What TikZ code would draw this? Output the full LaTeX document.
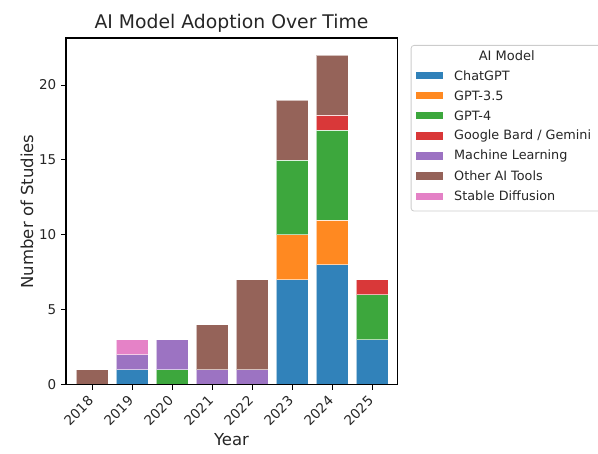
\documentclass[tikz,border=0pt]{standalone}
\usepackage{fontspec}
\setmainfont{DejaVu Sans}
\definecolor{cChat}{HTML}{1F77B4}
\definecolor{cG35}{HTML}{FF7F0E}
\definecolor{cG4}{HTML}{2CA02C}
\definecolor{cBard}{HTML}{D62728}
\definecolor{cML}{HTML}{9467BD}
\definecolor{cOther}{HTML}{8C564B}
\definecolor{cSD}{HTML}{E377C2}
\begin{document}
\begin{tikzpicture}[x=1pt,y=1pt,
  seg/.style={fill=#1, fill opacity=0.92, draw=white, draw opacity=0.6, line width=0.5pt},
  ticklab/.style={font=\fontsize{13.5}{16}\selectfont, text=black!85, inner sep=0pt},
  leglab/.style={font=\fontsize{12.8}{15}\selectfont, text=black!85, anchor=west, inner sep=0pt},
  legpatch/.style={fill=#1, fill opacity=0.92, draw=none},
  spine/.style={line width=1.8pt, black}]
\useasboundingbox (0,0) rectangle (598,454);
\clip (0,0) rectangle (598,454);
% bars: segment from value a to b at bar index i
\newcommand{\barseg}[4]{% index, from, to, colour
  \pgfmathsetmacro{\xc}{92+40*#1}
  \pgfmathsetmacro{\ya}{69.5+14.975*#2}
  \pgfmathsetmacro{\yb}{69.5+14.975*#3}
  \path[seg=#4] (\xc-16,\ya) rectangle (\xc+16,\yb);
}
% 2018
\barseg{0}{0}{1}{cOther}
% 2019
\barseg{1}{0}{1}{cChat}
\barseg{1}{1}{2}{cML}
\barseg{1}{2}{3}{cSD}
% 2020
\barseg{2}{0}{1}{cG4}
\barseg{2}{1}{3}{cML}
% 2021
\barseg{3}{0}{1}{cML}
\barseg{3}{1}{4}{cOther}
% 2022
\barseg{4}{0}{1}{cML}
\barseg{4}{1}{7}{cOther}
% 2023
\barseg{5}{0}{7}{cChat}
\barseg{5}{7}{10}{cG35}
\barseg{5}{10}{15}{cG4}
\barseg{5}{15}{19}{cOther}
% 2024
\barseg{6}{0}{8}{cChat}
\barseg{6}{8}{11}{cG35}
\barseg{6}{11}{17}{cG4}
\barseg{6}{17}{18}{cBard}
\barseg{6}{18}{22}{cOther}
% 2025
\barseg{7}{0}{3}{cChat}
\barseg{7}{3}{6}{cG4}
\barseg{7}{6}{7}{cBard}
% axes frame
\node[draw=none, inner sep=0pt, minimum width=331pt, minimum height=346pt, anchor=south west] (ax) at (66,69.5) {};
\draw[spine] (ax.south west) rectangle (ax.north east);
% y ticks
\foreach \v in {0,5,10,15,20}{
  \pgfmathsetmacro{\yy}{69.5+14.975*\v}
  \coordinate (yt\v) at (66,\yy);
  \draw[line width=0.9pt] (yt\v) -- ++(-5.5,0);
  \node[ticklab, anchor=east] (ytl\v) at (56.5,\yy) {\v};
}
% x ticks
\foreach \i/\yr in {0/2018,1/2019,2/2020,3/2021,4/2022,5/2023,6/2024,7/2025}{
  \pgfmathsetmacro{\xx}{92+40*\i}
  \coordinate (xt\i) at (\xx,69.5);
  \draw[line width=0.9pt] (xt\i) -- ++(0,-5.5);
  \node[ticklab, rotate=45, anchor=north east] (xtl\i) at (\xx-5,59.5) {\yr};
}
% labels
\node[font=\fontsize{18.8}{22}\selectfont, text=black!85] (title) at (231.5,431) {AI Model Adoption Over Time};
\node[font=\fontsize{16.5}{20}\selectfont, text=black!85] (xlab) at (231.5,14) {Year};
\node[font=\fontsize{16.5}{20}\selectfont, text=black!85, rotate=90] (ylab) at (27,242.5) {Number of Studies};
% legend
\node[draw=black!20, fill=white, fill opacity=0.8, draw opacity=1, rounded corners=3pt, line width=0.8pt,
  minimum width=192pt, minimum height=165.7pt, anchor=north west, inner sep=0pt] (leg) at (410.7,409) {};
\node[font=\fontsize{13}{16}\selectfont, text=black!85] (legt) at (506.7,398) {AI Model};
\foreach \k/\c/\t in {0/cChat/ChatGPT,1/cG35/GPT-3.5,2/cG4/GPT-4,3/cBard/{Google Bard / Gemini},4/cML/Machine Learning,5/cOther/Other AI Tools,6/cSD/Stable Diffusion}{
  \pgfmathsetmacro{\ly}{378.3-20.08*\k}
  \path[legpatch=\c] (416,\ly-3.6) rectangle (442.7,\ly+3.6);
  \node[leglab] (ll\k) at (454,\ly) {\t};
}
\end{tikzpicture}
\end{document}
